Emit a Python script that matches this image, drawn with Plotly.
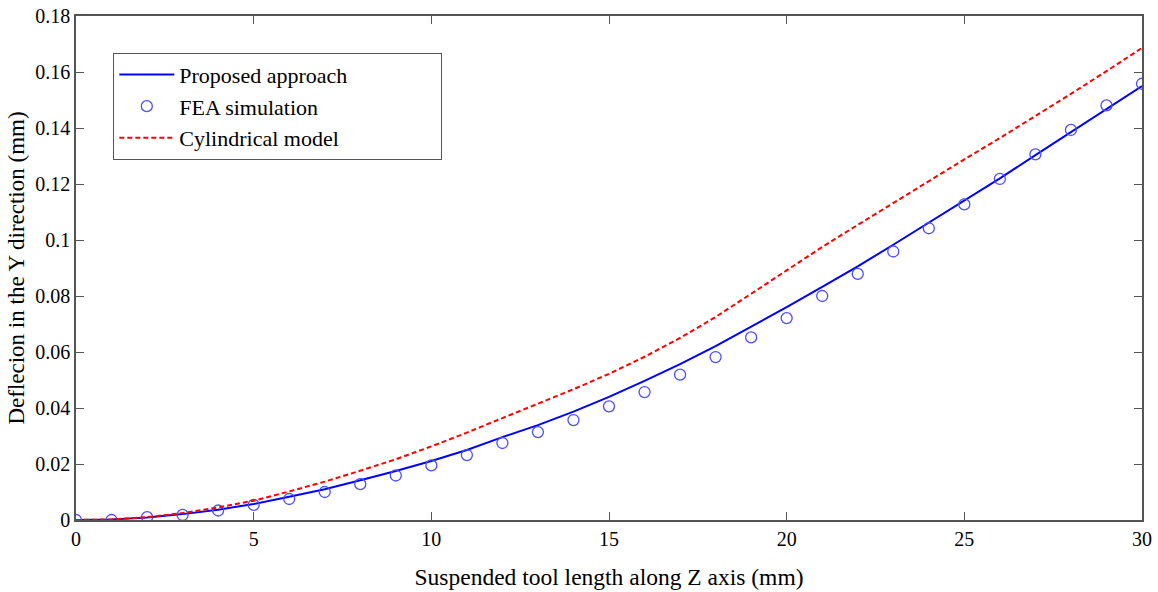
import plotly.graph_objects as go

z = list(range(31))
proposed = [0, 0.0002, 0.0009, 0.0021, 0.0037, 0.0057, 0.0083, 0.0110, 0.0142, 0.0175,
            0.0211, 0.0250, 0.0296, 0.0339, 0.0387, 0.0440, 0.0497, 0.0557, 0.0621, 0.0690,
            0.0760, 0.0833, 0.0906, 0.0983, 0.1061, 0.1140, 0.1220, 0.1303, 0.1386, 0.1468, 0.1550]
fea = [0, 0.0000, 0.0010, 0.0018, 0.0034, 0.0054, 0.0075, 0.0100, 0.0128, 0.0159,
       0.0195, 0.0232, 0.0275, 0.0314, 0.0357, 0.0406, 0.0457, 0.0519, 0.0582, 0.0652,
       0.0721, 0.0800, 0.0879, 0.0959, 0.1042, 0.1127, 0.1218, 0.1306, 0.1393, 0.1481, 0.1558]
cylindrical = [0, 0.0002, 0.0010, 0.0025, 0.0045, 0.0069, 0.0102, 0.0137, 0.0176, 0.0217,
               0.0263, 0.0312, 0.0364, 0.0415, 0.0467, 0.0522, 0.0583, 0.0650, 0.0725, 0.0808,
               0.0893, 0.0975, 0.1054, 0.1133, 0.1211, 0.1288, 0.1364, 0.1442, 0.1522, 0.1603, 0.1686]

names = ["Proposed approach", "FEA simulation", "Cylindrical model"]
xticks = [0, 5, 10, 15, 20, 25, 30]
yticks = [0, 0.02, 0.04, 0.06, 0.08, 0.1, 0.12, 0.14, 0.16, 0.18]
yticktext = ["0", "0.02", "0.04", "0.06", "0.08", "0.1", "0.12", "0.14", "0.16", "0.18"]

FONT = "Liberation Serif, Times New Roman, serif"
PAD = "\u00a0" * 16  # widens the legend box like the reference

fig = go.Figure()
fig.add_trace(go.Scatter(x=z, y=proposed, mode="lines", name=names[0] + PAD,
                         line=dict(color="#0000ff", width=2)))
fig.add_trace(go.Scatter(x=z, y=fea, mode="markers", name=names[1],
                         marker=dict(symbol="circle-open", size=11, color="#4d4dff",
                                     line=dict(width=1.3, color="#4d4dff"))))
fig.add_trace(go.Scatter(x=z, y=cylindrical, mode="lines", name=names[2],
                         line=dict(color="#ff0000", width=2, dash="5px,3px")))

axis_common = dict(showgrid=False, zeroline=False, showline=True, mirror="ticks",
                   linecolor="#555555", linewidth=1.5, ticks="inside", ticklen=8,
                   tickcolor="#555555", tickwidth=1.2, automargin=False,
                   tickfont=dict(family=FONT, size=20, color="black"))

fig.update_xaxes(range=[0, 30], tickvals=xticks,
                 title=dict(text="Suspended tool length along Z axis (mm)",
                            font=dict(family=FONT, size=23.5, color="black"), standoff=20),
                 **axis_common)
fig.update_yaxes(range=[0, 0.18], tickvals=yticks, ticktext=yticktext,
                 title=dict(text="Deflecion in the Y direction (mm)",
                            font=dict(family=FONT, size=23, color="black"), standoff=4),
                 **axis_common)

fig.update_layout(
    width=1158, height=592,
    margin=dict(l=76, r=16, t=16, b=72),
    paper_bgcolor="white", plot_bgcolor="white",
    font=dict(family=FONT, color="black"),
    legend=dict(x=0.035, y=0.927, xanchor="left", yanchor="top",
                bordercolor="#555555", borderwidth=1, bgcolor="white",
                font=dict(family=FONT, size=22, color="black"),
                itemwidth=55, tracegroupgap=0),
    showlegend=True,
)

fig.write_html("out.html")
